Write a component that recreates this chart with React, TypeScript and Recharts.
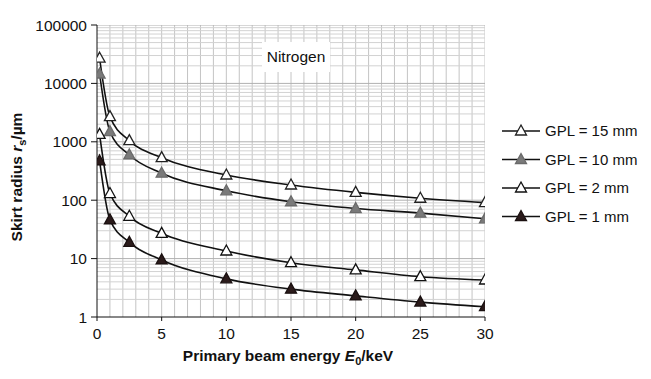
import React from "react";
import { LineChart, Line, XAxis, YAxis, ReferenceLine } from "recharts";

const energy = [0.2, 1, 2.5, 5, 10, 15, 20, 25, 30];
const gpl15 = [27000, 2700, 1050, 535, 270, 182, 136, 108, 91];
const gpl10 = [14500, 1490, 595, 290, 145, 94, 72, 60, 48];
const gpl2 = [1340, 130, 53, 27, 13.5, 8.5, 6.4, 4.9, 4.3];
const gpl1 = [470, 46, 19, 9.5, 4.5, 3.0, 2.3, 1.8, 1.5];

const xTicks = [0, 5, 10, 15, 20, 25, 30];
const yTicks = [1, 10, 100, 1000, 10000, 100000];
const xMinorGrid = Array.from({ length: 30 }, (_, i) => i + 1);
const yMinorGrid = [1, 10, 100, 1000, 10000].flatMap((d) => [2, 3, 4, 5, 6, 7, 8, 9].map((m) => m * d));

const series = [
  { key: "gpl15", name: "GPL = 15 mm", values: gpl15, fill: "#ffffff", stroke: "#222" },
  { key: "gpl10", name: "GPL = 10 mm", values: gpl10, fill: "#7a7a7a", stroke: "#6a6a6a" },
  { key: "gpl2", name: "GPL = 2 mm", values: gpl2, fill: "#ffffff", stroke: "#111" },
  { key: "gpl1", name: "GPL = 1 mm", values: gpl1, fill: "#2b1b1b", stroke: "#1a1010" },
];

const data = energy.map((e, i) => {
  const row: any = { e };
  series.forEach((s) => (row[s.key] = s.values[i]));
  return row;
});

const FONT = "'Liberation Sans', Arial, Helvetica, sans-serif";

function tri(cx: number, cy: number, w = 11, h = 10) {
  return `M${cx},${cy - h * 0.6} L${cx + w / 2},${cy + h * 0.4} L${cx - w / 2},${cy + h * 0.4} Z`;
}

const makeDot = (fill: string, stroke: string) => (props: any) => {
  const { cx, cy, index } = props;
  if (cx == null || cy == null) return <g key={index} />;
  return <path key={index} d={tri(cx, cy)} fill={fill} stroke={stroke} strokeWidth={1.3} />;
};

const LegendBox = () => (
  <svg
    width={150}
    height={115}
    style={{ position: "absolute", left: 502, top: 121, overflow: "visible" }}
  >
    {series.map((s, i) => {
      const y = 10 + i * 28.5;
      return (
        <g key={s.key}>
          <line x1={0} x2={38} y1={y} y2={y} stroke="#111" strokeWidth={1.5} />
          <path d={tri(19, y)} fill={s.fill} stroke={s.stroke} strokeWidth={1.3} />
          <text x={43} y={y + 5} fontSize={15} fontFamily={FONT} fill="#111">
            {s.name}
          </text>
        </g>
      );
    })}
  </svg>
);

export default function App() {
  return (
    <div style={{ position: "absolute", left: 0, top: 0, width: 651, height: 379, background: "#fff", fontFamily: FONT }}>
      <LineChart width={651} height={379} data={data} margin={{ top: 25, right: 166, bottom: 32, left: 37 }}>
        {xMinorGrid.map((x) => (
          <ReferenceLine key={"vx" + x} x={x} stroke="#c4c4c4" strokeWidth={1} ifOverflow="hidden" />
        ))}
        {yMinorGrid.map((y) => (
          <ReferenceLine key={"hy" + y} y={y} stroke="#d2d2d2" strokeWidth={1} ifOverflow="hidden" />
        ))}
        {yTicks.slice(1).map((y) => (
          <ReferenceLine key={"my" + y} y={y} stroke="#b0b0b0" strokeWidth={1} ifOverflow="hidden" />
        ))}
        <XAxis
          dataKey="e"
          type="number"
          domain={[0, 30]}
          ticks={xTicks}
          interval={0}
          height={30}
          tickSize={4}
          tickMargin={7}
          stroke="#111"
          tick={{ fontSize: 15.5, fill: "#111", fontFamily: FONT }}
          allowDataOverflow
        />
        <YAxis
          scale="log"
          domain={[1, 100000]}
          ticks={yTicks}
          interval={0}
          width={60}
          tickSize={6}
          tickMargin={4}
          stroke="#111"
          tick={{ fontSize: 15.5, fill: "#111", fontFamily: FONT }}
          allowDataOverflow
        />
        {series.map((s) => (
          <Line
            key={s.key}
            dataKey={s.key}
            name={s.name}
            type="monotone"
            stroke="#111"
            strokeWidth={1.6}
            dot={makeDot(s.fill, s.stroke)}
            activeDot={false}
            isAnimationActive={false}
          />
        ))}
      </LineChart>
      <LegendBox />
      <div
        style={{
          position: "absolute",
          left: 262,
          top: 42,
          width: 68,
          height: 30,
          background: "#fff",
          fontSize: 15.5,
          lineHeight: "30px",
          textAlign: "center",
          color: "#111",
        }}
      >
        Nitrogen
      </div>
      <div
        style={{
          position: "absolute",
          left: 288,
          top: 357,
          transform: "translate(-50%, -50%)",
          whiteSpace: "nowrap",
          fontSize: 15.5,
          fontWeight: "bold",
          color: "#111",
        }}
      >
        Primary beam energy <i>E</i>
        <sub style={{ fontSize: 11 }}>0</sub>/keV
      </div>
      <div
        style={{
          position: "absolute",
          left: 18,
          top: 177,
          transform: "translate(-50%, -50%) rotate(-90deg)",
          whiteSpace: "nowrap",
          fontSize: 15.5,
          fontWeight: "bold",
          color: "#111",
        }}
      >
        Skirt radius <i>r</i>
        <sub style={{ fontSize: 11 }}>s</sub>/µm
      </div>
    </div>
  );
}
